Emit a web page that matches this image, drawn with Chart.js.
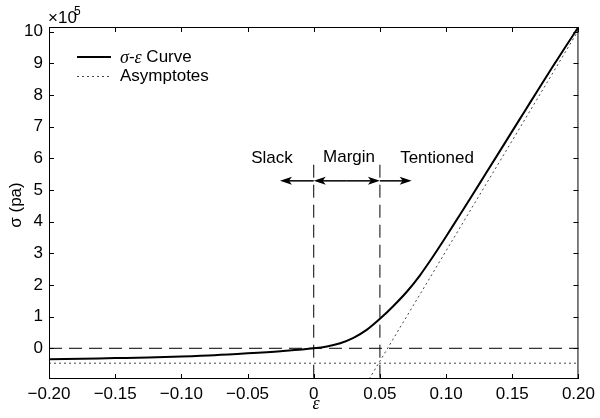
<!DOCTYPE html>
<html>
<head>
<meta charset="utf-8">
<script src="https://cdn.jsdelivr.net/npm/chart.js@4.4.1/dist/chart.umd.min.js"></script>
<style>
  html, body { margin: 0; padding: 0; background: #fff; }
  #wrap { width: 600px; height: 418px; }
</style>
</head>
<body>
<div id="wrap"><canvas id="grafico"></canvas></div>
<script>
// deformação (ε) e tensão (σ, em unidades de 1e5 pa)
const epsCurva = [-0.20, -0.175, -0.15, -0.125, -0.10, -0.075, -0.05, -0.025, 0.0,
  0.01, 0.02, 0.03, 0.04, 0.05, 0.06, 0.07, 0.08, 0.09, 0.10,
  0.11, 0.12, 0.13, 0.14, 0.15, 0.16, 0.17, 0.18, 0.19, 0.20];
const sigmaCurva = [-0.35, -0.33, -0.31, -0.29, -0.26, -0.22, -0.16, -0.09, 0.0,
  0.06, 0.16, 0.33, 0.58, 0.93, 1.33, 1.77, 2.29, 2.89, 3.53,
  4.19, 4.85, 5.52, 6.19, 6.86, 7.53, 8.20, 8.86, 9.51, 10.15];

// assíntotas (pontos extremos)
const assintotaFolgada = [{ x: -0.20, y: -0.47 }, { x: 0.20, y: -0.47 }];
const assintotaTensa = [{ x: 0.0419, y: -0.97 }, { x: 0.20, y: 10.05 }];

// linhas de referência tracejadas
const limitesRegiao = [0, 0.05];
const topoLimites = 5.8;
const setaY = 5.29;
const setaSlackFim = -0.0255;
const setaTensaFim = 0.074;

const xTicks = [-0.20, -0.15, -0.10, -0.05, 0, 0.05, 0.10, 0.15, 0.20];
const yTicks = [0, 1, 2, 3, 4, 5, 6, 7, 8, 9, 10];
const yMin = -0.97, yMax = 10.15;

const FONTE = "'Liberation Sans', Arial, Helvetica, sans-serif";
const SERIFA = "'Liberation Serif', 'DejaVu Serif', serif";

function pontos(xs, ys) {
  return xs.map((x, i) => ({ x, y: ys[i] }));
}

const datasets = [
  {
    label: "curva",
    data: pontos(epsCurva, sigmaCurva),
    borderColor: "#000",
    borderWidth: 2,
    pointRadius: 0,
    cubicInterpolationMode: "monotone"
  },
  {
    label: "assintota1",
    data: assintotaFolgada,
    borderColor: "#444",
    borderWidth: 1,
    borderDash: [2, 3],
    pointRadius: 0
  },
  {
    label: "assintota2",
    data: assintotaTensa,
    borderColor: "#444",
    borderWidth: 1,
    borderDash: [2, 3],
    pointRadius: 0
  },
  {
    label: "zero",
    data: [{ x: xTicks[0], y: 0 }, { x: xTicks[xTicks.length - 1], y: 0 }],
    borderColor: "#000",
    borderWidth: 1,
    borderDash: [13, 7],
    pointRadius: 0
  }
];
limitesRegiao.forEach(x => {
  datasets.push({
    label: "limite",
    data: [{ x, y: topoLimites }, { x, y: yMin }],
    borderColor: "#000",
    borderWidth: 1,
    borderDash: [13, 7],
    pointRadius: 0
  });
});

function seta(ctx, x0, x1, y) {
  const dir = Math.sign(x1 - x0);
  ctx.beginPath();
  ctx.moveTo(x0, y);
  ctx.lineTo(x1 - dir * 8, y);
  ctx.stroke();
  ctx.beginPath();
  ctx.moveTo(x1, y);
  ctx.lineTo(x1 - dir * 12, y - 4);
  ctx.lineTo(x1 - dir * 9, y);
  ctx.lineTo(x1 - dir * 12, y + 4);
  ctx.closePath();
  ctx.fill();
}

// eixo estilo matlab: caixa, marcas internas, legenda e anotações
const estiloMatlab = {
  id: "estiloMatlab",
  afterDraw(chart) {
    const { ctx, chartArea: a, scales: { x, y } } = chart;
    ctx.save();
    ctx.strokeStyle = "#000";
    ctx.fillStyle = "#000";
    ctx.lineWidth = 1;
    ctx.setLineDash([]);
    ctx.strokeRect(a.left + 0.5, a.top + 0.5, a.right - a.left - 1, a.bottom - a.top - 1);
    ctx.beginPath();
    xTicks.forEach(v => {
      const px = Math.round(x.getPixelForValue(v)) + 0.5;
      ctx.moveTo(px, a.bottom); ctx.lineTo(px, a.bottom - 5);
      ctx.moveTo(px, a.top); ctx.lineTo(px, a.top + 5);
    });
    yTicks.forEach(v => {
      const py = Math.round(y.getPixelForValue(v)) + 0.5;
      ctx.moveTo(a.left, py); ctx.lineTo(a.left + 5, py);
      ctx.moveTo(a.right, py); ctx.lineTo(a.right - 5, py);
    });
    ctx.stroke();

    // multiplicador do eixo y
    ctx.textBaseline = "alphabetic";
    ctx.textAlign = "left";
    ctx.font = "17px " + FONTE;
    ctx.fillText("\u00d710", 48, 23);
    ctx.font = "12px " + FONTE;
    ctx.fillText("5", 74, 15);

    // rótulos dos eixos
    ctx.font = "italic 18px " + SERIFA;
    ctx.textAlign = "center";
    ctx.fillText("\u03b5", 316, 409);
    ctx.save();
    ctx.translate(21, 205);
    ctx.rotate(-Math.PI / 2);
    ctx.font = "17px " + FONTE;
    ctx.fillText("\u03c3 (pa)", 0, 0);
    ctx.restore();

    // legenda
    ctx.lineWidth = 2;
    ctx.beginPath();
    ctx.moveTo(77, 57); ctx.lineTo(111, 57);
    ctx.stroke();
    ctx.lineWidth = 1;
    ctx.strokeStyle = "#444";
    ctx.setLineDash([2, 3]);
    ctx.beginPath();
    ctx.moveTo(77, 76.5); ctx.lineTo(111, 76.5);
    ctx.stroke();
    ctx.setLineDash([]);
    ctx.strokeStyle = "#000";
    ctx.textAlign = "left";
    ctx.textBaseline = "middle";
    let tx = 120;
    ctx.font = "italic 18px " + SERIFA;
    ctx.fillText("\u03c3", tx, 58); tx += ctx.measureText("\u03c3").width;
    ctx.font = "17px " + FONTE;
    ctx.fillText("-", tx, 57); tx += ctx.measureText("-").width;
    ctx.font = "italic 18px " + SERIFA;
    ctx.fillText("\u03b5", tx, 58); tx += ctx.measureText("\u03b5").width;
    ctx.font = "17px " + FONTE;
    ctx.fillText(" Curve", tx, 57);
    ctx.fillText("Asymptotes", 120, 76);

    // setas das regiões
    const ay = y.getPixelForValue(setaY);
    const x0 = x.getPixelForValue(limitesRegiao[0]);
    const x1 = x.getPixelForValue(limitesRegiao[1]);
    ctx.lineWidth = 1.5;
    seta(ctx, x0, x.getPixelForValue(setaSlackFim), ay);
    seta(ctx, (x0 + x1) / 2, x0, ay);
    seta(ctx, (x0 + x1) / 2, x1, ay);
    seta(ctx, x1, x.getPixelForValue(setaTensaFim), ay);

    ctx.font = "17px " + FONTE;
    ctx.textAlign = "center";
    ctx.textBaseline = "middle";
    ctx.fillText("Slack", 272, 158);
    ctx.fillText("Margin", 349, 157);
    ctx.fillText("Tentioned", 437, 158);
    ctx.restore();
  }
};

new Chart(document.getElementById("grafico"), {
  type: "line",
  data: { datasets },
  options: {
    responsive: true,
    maintainAspectRatio: false,
    animation: false,
    layout: { padding: { top: 27, right: 17, left: 0, bottom: 0 } },
    plugins: { legend: { display: false }, tooltip: { enabled: false } },
    scales: {
      x: {
        type: "linear",
        min: xTicks[0],
        max: xTicks[xTicks.length - 1],
        afterBuildTicks: s => { s.ticks = xTicks.map(v => ({ value: v })); },
        afterFit: s => { s.height = 39; },
        grid: { display: false, drawTicks: false },
        border: { display: false },
        ticks: {
          color: "#000",
          font: { family: FONTE, size: 17 },
          padding: 5,
          maxRotation: 0,
          callback: v => v === 0 ? "0" : (v < 0 ? "\u2212" : "") + Math.abs(v).toFixed(2)
        }
      },
      y: {
        type: "linear",
        min: yMin,
        max: yMax,
        afterBuildTicks: s => { s.ticks = yTicks.map(v => ({ value: v })); },
        afterFit: s => { s.width = 49; },
        grid: { display: false, drawTicks: false },
        border: { display: false },
        ticks: {
          color: "#000",
          font: { family: FONTE, size: 17 },
          padding: 6,
          callback: v => String(v)
        }
      }
    }
  },
  plugins: [estiloMatlab]
});
</script>
</body>
</html>
